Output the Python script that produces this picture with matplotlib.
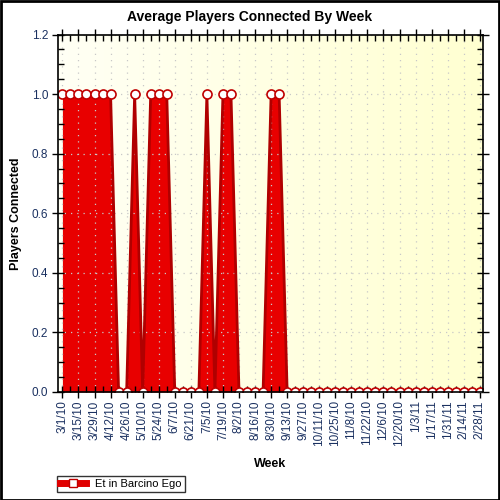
import matplotlib
matplotlib.use("Agg")
import matplotlib.pyplot as plt
import numpy as np
from matplotlib.patches import Rectangle
from matplotlib.colors import LinearSegmentedColormap

weeks = ["3/1/10","3/8/10","3/15/10","3/22/10","3/29/10","4/5/10","4/12/10","4/19/10",
         "4/26/10","5/3/10","5/10/10","5/17/10","5/24/10","5/31/10","6/7/10","6/14/10",
         "6/21/10","6/28/10","7/5/10","7/12/10","7/19/10","7/26/10","8/2/10","8/9/10",
         "8/16/10","8/23/10","8/30/10","9/6/10","9/13/10","9/20/10","9/27/10","10/4/10",
         "10/11/10","10/18/10","10/25/10","11/1/10","11/8/10","11/15/10","11/22/10","11/29/10",
         "12/6/10","12/13/10","12/20/10","12/27/10","1/3/11","1/10/11","1/17/11","1/24/11",
         "1/31/11","2/7/11","2/14/11","2/21/11","2/28/11"]
players = [1,1,1,1,1,1,1,0,0,1,0,1,1,1,0,0,0,0,1,0,1,1,0,0,0,0,1,1,0,0,0,0,0,0,0,0,0,
           0,0,0,0,0,0,0,0,0,0,0,0,0,0,0,0]
series_name = "Et in Barcino Ego"

plt.rcParams['font.family'] = ['Liberation Sans', 'DejaVu Sans']
fig = plt.figure(figsize=(5, 5), dpi=100)
ax = fig.add_axes([58/500, 1-392/500, (483-58)/500, (392-34.5)/500])

x = np.arange(len(weeks))
ax.set_xlim(-0.55, len(weeks) - 1 + 0.4)
ax.set_ylim(0, 1.2)

# gradient background
cmap = LinearSegmentedColormap.from_list("bg", [(1, 1, 0.96), (1, 1, 0.82)])
grad = np.linspace(0, 1, 256).reshape(1, -1)
ax.imshow(grad, cmap=cmap, aspect='auto', extent=(0, 1, 0, 1),
          transform=ax.transAxes, zorder=0)

ax.fill_between(x, players, 0, color='#e80000', lw=0, zorder=2)
ax.plot(x, players, color='#b00000', lw=2, zorder=3,
        marker='o', markersize=6.5, markerfacecolor='white',
        markeredgecolor='#c00000', markeredgewidth=1.2, clip_on=True)

ax.set_xticks(x[::2])
ax.set_xticklabels(weeks[::2], rotation=90, fontsize=8.5, color='#1a3060')
ax.set_xticks(x, minor=True)
ax.set_yticks(np.arange(0, 1.21, 0.2))
ax.set_yticklabels(["%.1f" % v for v in np.arange(0, 1.21, 0.2)], fontsize=8.5, color='#1a3060')
ax.set_yticks(np.arange(0, 1.21, 0.05), minor=True)
ax.grid(True, which='major', color='#c8c8c8', linestyle=(0, (1, 4)), lw=0.9, zorder=1)
ax.set_axisbelow(False)

ax.tick_params(axis='x', which='major', direction='inout', length=8, width=1, top=True, pad=2)
ax.tick_params(axis='x', which='minor', direction='in', length=4, width=1, top=True)
ax.tick_params(axis='y', which='major', direction='inout', length=8, width=1, right=True, pad=3)
ax.tick_params(axis='y', which='minor', direction='in', length=4, width=1, right=True)
for s in ax.spines.values():
    s.set_linewidth(1.2)
    s.set_zorder(5)

fig.text(0.5, 1-17/500, "Average Players Connected By Week", fontsize=10,
         fontweight='bold', ha='center', va='center')
ax.set_xlabel("Week", fontsize=9, fontweight='bold', labelpad=8)
ax.set_ylabel("Players Connected", fontsize=9, fontweight='bold', labelpad=7)

handle = plt.Line2D([], [], color='#e00000', lw=5, marker='s', markersize=6,
                    markerfacecolor='white', markeredgecolor='#c00000')
leg = fig.legend([handle], [series_name], loc='lower left',
                 bbox_to_anchor=(57/500, 1-492/500), fontsize=8, frameon=True,
                 fancybox=False, borderpad=0.25, handlelength=2.4, handletextpad=0.8,
                 borderaxespad=0)
leg.get_frame().set_edgecolor('black')
leg.get_frame().set_linewidth(1)

fig.patches.append(Rectangle((0.001, 0.001), 0.997, 0.997, transform=fig.transFigure,
                             fill=False, edgecolor='black', lw=2))
fig.savefig("out.png", dpi=100)
